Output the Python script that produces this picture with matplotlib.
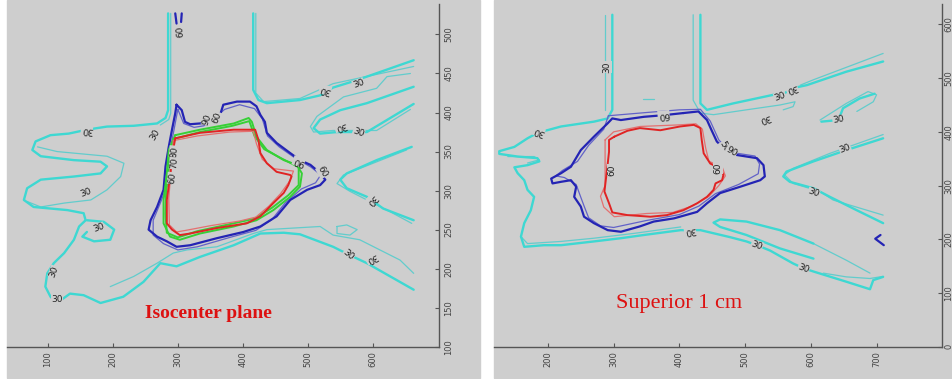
import matplotlib
matplotlib.use("Agg")
import matplotlib.pyplot as plt
from matplotlib.patches import Rectangle

# colours of the isodose lines
GRAY = '#cecece'
CYAN = '#3ed8d2'
CYAN_THIN = '#62cccc'
BLUE = '#2424b4'
BLUE_THIN = '#6262c8'
RED = '#e02424'
RED_THIN = '#e47070'
GREEN = '#36d036'

# ---- isocenter plane: contour paths (x, y) ----
iso_cyan_thick = [
    [(285, 527), (285, 403), (281, 393), (268, 386), (232, 383), (191, 382),
     (160, 378), (132, 373), (104, 371), (81, 363), (76, 352), (89, 344),
     (140, 339), (181, 337), (191, 331), (181, 322), (140, 318), (89, 314),
     (68, 303), (63, 288), (78, 279), (130, 275), (155, 271), (158, 262),
     (148, 254), (140, 237), (125, 220), (109, 207), (99, 194), (96, 177),
     (104, 164), (114, 156), (134, 168), (155, 166), (181, 156), (216, 164),
     (247, 183), (273, 207), (298, 203), (334, 215), (386, 230), (427, 245),
     (463, 246), (488, 244), (539, 228), (563, 218), (591, 207), (663, 173)],
    [(416, 527), (416, 429), (424, 416), (437, 412), (488, 416), (519, 422),
     (539, 432), (570, 440), (591, 446), (663, 467)],
    [(663, 433), (591, 412), (550, 403), (519, 391), (509, 380), (519, 373),
     (545, 375), (591, 375), (663, 411)],
    [(660, 356), (606, 339), (560, 322), (550, 314), (560, 303), (591, 292),
     (598, 288), (616, 277), (663, 262)],
    [(160, 262), (186, 260), (202, 250), (196, 237), (171, 235), (153, 241),
     (160, 247)],
]
iso_cyan_thin = [
    [(289, 527), (289, 399), (286, 391), (273, 384)],
    [(420, 527), (420, 425), (432, 414), (488, 418), (539, 437), (663, 459)],
    [(658, 450), (622, 446), (606, 431), (555, 420), (514, 395), (504, 382),
     (509, 375), (539, 377), (606, 377), (658, 404)],
    [(652, 352), (555, 320), (545, 309), (565, 299), (622, 275), (660, 258)],
    [(84, 356), (114, 350), (191, 344), (217, 335), (212, 318), (191, 301),
     (166, 288), (125, 284), (89, 279), (68, 286)],
    [(196, 177), (232, 190), (268, 207), (293, 220), (314, 224), (360, 228),
     (416, 245), (437, 250), (519, 254), (539, 243), (580, 237), (642, 211),
     (663, 194)],
    [(545, 254), (560, 256), (576, 250), (565, 243), (545, 245), (545, 254)],
]
iso_blue_thick = [
    [(298, 410), (306, 403), (311, 388), (319, 385), (334, 386), (347, 388),
     (365, 397), (370, 410), (391, 414), (411, 414), (421, 408), (427, 397),
     (434, 388), (437, 374), (452, 361), (473, 348), (488, 339), (504, 333),
     (514, 326), (527, 314), (519, 307), (499, 301), (473, 288), (452, 267),
     (427, 254), (401, 247), (360, 239), (319, 230), (298, 228), (283, 235),
     (268, 241), (255, 250), (258, 262), (268, 279), (278, 301), (281, 331),
     (286, 356), (291, 378), (296, 399), (298, 410)],
    [(296, 527), (298, 514)],
    [(306, 527), (305, 516)],
]
iso_blue_thin = [
    [(300, 404), (309, 386), (325, 381), (340, 383), (352, 390), (372, 404),
     (395, 410), (418, 405), (430, 392), (438, 370), (456, 356), (480, 342),
     (505, 330), (520, 320), (512, 310), (490, 302), (465, 284), (445, 263),
     (420, 249), (380, 240), (330, 228), (300, 224), (278, 232), (262, 243),
     (262, 262), (272, 282), (283, 305), (285, 335), (290, 360), (295, 382),
     (300, 404)],
]
iso_green = [
    [(296, 371), (334, 378), (386, 386), (409, 393), (414, 388), (421, 369),
     (437, 352), (463, 339), (483, 333), (491, 322), (488, 305), (473, 292),
     (447, 275), (421, 262), (386, 254), (334, 245), (303, 237), (288, 241),
     (278, 258), (278, 288), (283, 322), (286, 352), (296, 371)],
    [(293, 366), (334, 375), (384, 383), (410, 389), (418, 370), (433, 353),
     (460, 341), (486, 330), (486, 307), (470, 294), (445, 278), (418, 264),
     (380, 257), (330, 248), (300, 240), (283, 246), (281, 270), (282, 300),
     (286, 330), (289, 352), (293, 366)],
]
iso_red_thick = [
    [(296, 367), (334, 374), (386, 378), (419, 378), (424, 365), (427, 348),
     (437, 335), (452, 324), (473, 320), (475, 318), (470, 307), (463, 297),
     (447, 284), (427, 267), (406, 258), (360, 252), (319, 245), (303, 243),
     (291, 250), (283, 258), (283, 288), (288, 318), (291, 344), (296, 367)],
]
iso_red_thin = [
    [(293, 364), (330, 370), (380, 375), (416, 376), (421, 360), (430, 340),
     (448, 328), (478, 325), (472, 312), (458, 296), (440, 280), (420, 266),
     (395, 261), (350, 255), (312, 249), (298, 247), (287, 256), (286, 290),
     (290, 330), (293, 364)],
]
iso_labels = [
    (304, 504, '60', 95), (527, 429, '30', 165), (578, 437, '30', 20),
    (550, 382, '30', 200), (578, 374, '30', -20), (598, 288, '30', -130),
    (563, 218, '30', -40), (598, 213, '30', 210), (160, 378, '30', 175),
    (265, 371, '30', 60), (158, 297, '30', 20), (178, 252, '30', 20),
    (109, 196, '30', 70), (114, 161, '30', 0), (345, 391, '90', 70),
    (361, 393, '60', 70), (294, 350, '80', 85), (294, 335, '70', 85),
    (291, 316, '60', 85), (486, 337, '90', 160), (522, 324, '60', -60),
]

# ---- superior 1 cm: contour paths (x, y) ----
sup_cyan_thick = [
    [(298, 618), (298, 441), (291, 425), (270, 419), (220, 410), (199, 403),
     (187, 400), (169, 388), (149, 372), (126, 364), (126, 359), (154, 354),
     (184, 351), (187, 345), (169, 338), (149, 334), (154, 323), (164, 310),
     (169, 292), (179, 279), (174, 254), (164, 230), (159, 205), (164, 186),
     (194, 189), (220, 189), (270, 196), (311, 202), (346, 208), (402, 217),
     (419, 217), (432, 217), (477, 204), (502, 196), (518, 189), (538, 179),
     (573, 155), (589, 146), (604, 140), (654, 121), (690, 107), (695, 124),
     (710, 130)],
    [(432, 618), (432, 453), (442, 441), (482, 453), (543, 469), (553, 466),
     (571, 481), (594, 487), (654, 512), (710, 531)],
    [(604, 164), (553, 183), (502, 208), (462, 223), (452, 231), (462, 237),
     (502, 233), (553, 217), (604, 192)],
    [(616, 419), (642, 422), (649, 444), (674, 462), (697, 471)],
    [(710, 388), (654, 366), (604, 345), (563, 326), (558, 317), (568, 307),
     (604, 295), (629, 279), (670, 254), (710, 230)],
]
sup_cyan_thin = [
    [(287, 618), (287, 521), (287, 441)],
    [(421, 618), (421, 459), (432, 435), (452, 432), (502, 441), (553, 450),
     (576, 456), (573, 447), (558, 441)],
    [(710, 546), (604, 497), (584, 487)],
    [(614, 422), (654, 453), (687, 475), (700, 469), (695, 456), (670, 438)],
    [(710, 395), (629, 360), (573, 332), (560, 320), (573, 304), (614, 289),
     (634, 273), (710, 245)],
    [(139, 354), (179, 354), (187, 348), (169, 342)],
    [(159, 205), (169, 192), (220, 196), (270, 202), (331, 211), (402, 223)],
    [(604, 192), (654, 161), (690, 137)],
    [(619, 137), (654, 130), (690, 127), (710, 131)],
    [(345, 462), (361, 462)],
]
sup_blue_thick = [
    [(406, 435), (429, 438), (442, 422), (449, 403), (457, 382), (462, 376),
     (487, 357), (518, 351), (528, 338), (530, 317), (523, 310), (493, 298),
     (462, 286), (442, 267), (427, 251), (392, 239), (361, 233), (340, 224),
     (311, 214), (291, 217), (270, 230), (255, 242), (250, 261), (240, 279),
     (243, 298), (235, 310), (220, 307), (207, 304), (205, 313), (220, 323),
     (235, 335), (250, 366), (270, 391), (291, 416), (298, 425), (311, 422),
     (346, 428), (376, 431), (406, 435)],
    [(706, 208), (698, 201), (711, 189)],
]
sup_blue_thin = [
    [(292, 430), (350, 436), (400, 441), (432, 442), (447, 420), (460, 385),
     (478, 362), (515, 355), (522, 340), (520, 322), (490, 302), (455, 285),
     (430, 262), (400, 246), (350, 235), (300, 222), (280, 225), (262, 240),
     (255, 262), (248, 285), (243, 302), (225, 315), (212, 318), (222, 328),
     (245, 345), (262, 375), (285, 405), (292, 430)],
]
sup_red_thick = [
    [(301, 391), (321, 402), (340, 407), (371, 403), (401, 410), (422, 413),
     (432, 407), (434, 385), (437, 360), (447, 341), (462, 332), (467, 320),
     (465, 310), (455, 304), (452, 292), (442, 279), (427, 267), (406, 254),
     (381, 245), (356, 242), (321, 245), (298, 250), (293, 267), (286, 289),
     (290, 330), (293, 363), (293, 385), (301, 391)],
]
sup_red_thin = [
    [(287, 385), (300, 400), (340, 410), (400, 413), (425, 415), (435, 405),
     (440, 370), (445, 345), (465, 335), (470, 318), (460, 300), (445, 280),
     (420, 262), (390, 250), (350, 248), (301, 242), (285, 260), (280, 280),
     (287, 300), (287, 385)],
]
sup_labels = [
    (290, 521, '30', 90), (186, 400, '30', 160), (376, 431, '60', 185),
    (530, 425, '30', 200), (553, 466, '30', 20), (571, 481, '30', 200),
    (297, 329, '60', 90), (459, 332, '60', 90), (469, 372, '50', -60),
    (479, 363, '90', -30), (642, 422, '30', 10), (652, 369, '30', 20),
    (604, 286, '30', -20), (416, 217, '30', 190), (518, 189, '30', -20),
    (589, 146, '30', -20),
]


def draw_paths(ax, paths, color, lw):
    for path in paths:
        xs = [p[0] for p in path]
        ys = [p[1] for p in path]
        ax.plot(xs, ys, color=color, lw=lw, solid_capstyle='round',
                solid_joinstyle='round', zorder=2)


def draw_labels(ax, labels):
    for x, y, s, rot in labels:
        ax.text(x, y, s, fontsize=6.5, color='#222222', rotation=rot,
                ha='center', va='center', rotation_mode='anchor', zorder=4,
                bbox=dict(facecolor=GRAY, edgecolor='none', pad=0.2))


def style_axes(ax, xlim, ylim, xticks, yticks, ypad):
    ax.set_facecolor(GRAY)
    ax.set_xlim(*xlim)
    ax.set_ylim(*ylim)
    ax.set_xticks(xticks)
    ax.set_yticks(yticks)
    ax.spines['top'].set_visible(False)
    ax.spines['left'].set_visible(False)
    for side in ('bottom', 'right'):
        ax.spines[side].set_color('#555555')
        ax.spines[side].set_linewidth(1.0)
    ax.xaxis.tick_bottom()
    ax.yaxis.tick_right()
    ax.tick_params(direction='in', length=3, width=0.8, color='#555555',
                   labelsize=6, labelcolor='#444444', labelrotation=90)
    ax.tick_params(axis='x', pad=3)
    ax.tick_params(axis='y', pad=ypad)
    for lab in ax.get_yticklabels():
        lab.set_va('center')


fig = plt.figure(figsize=(9.53, 3.79), dpi=100, facecolor='white')
# gray panel backgrounds sit behind the axes
fig.patches.append(Rectangle((7 / 953, 0.002), 473 / 953, 0.998,
                             transform=fig.transFigure, color=GRAY,
                             zorder=-5))
fig.patches.append(Rectangle((494 / 953, 0.002), 459 / 953, 0.998,
                             transform=fig.transFigure, color=GRAY,
                             zorder=-5))

ax1 = fig.add_axes([7 / 953, 0.0852, 432 / 953, 0.9042])
style_axes(ax1, (37, 702), (100, 539), range(100, 601, 100),
           range(100, 501, 50), 4)
draw_paths(ax1, iso_cyan_thin, CYAN_THIN, 0.9)
draw_paths(ax1, iso_cyan_thick, CYAN, 1.7)
draw_paths(ax1, iso_blue_thin, BLUE_THIN, 0.9)
draw_paths(ax1, iso_blue_thick, BLUE, 1.6)
draw_paths(ax1, iso_green, GREEN, 1.4)
draw_paths(ax1, iso_red_thin, RED_THIN, 0.9)
draw_paths(ax1, iso_red_thick, RED, 1.4)
draw_labels(ax1, iso_labels)
ax1.text(347, 143, 'Isocenter plane', color='#dd1111', fontsize=14,
         fontweight='bold', family='Liberation Serif', ha='center',
         va='center')

ax2 = fig.add_axes([494 / 953, 0.0852, 448.3 / 953, 0.9042])
style_axes(ax2, (118, 800), (0, 638), range(200, 701, 100),
           range(0, 601, 100), 1.5)
draw_paths(ax2, sup_cyan_thin, CYAN_THIN, 0.9)
draw_paths(ax2, sup_cyan_thick, CYAN, 1.7)
draw_paths(ax2, sup_blue_thin, BLUE_THIN, 0.9)
draw_paths(ax2, sup_blue_thick, BLUE, 1.6)
draw_paths(ax2, sup_red_thin, RED_THIN, 0.9)
draw_paths(ax2, sup_red_thick, RED, 1.4)
draw_labels(ax2, sup_labels)
ax2.text(400, 81, 'Superior 1 cm', color='#dd1111', fontsize=16,
         family='Liberation Serif', ha='center', va='center')

fig.savefig('out.png', dpi=100, facecolor='white')
